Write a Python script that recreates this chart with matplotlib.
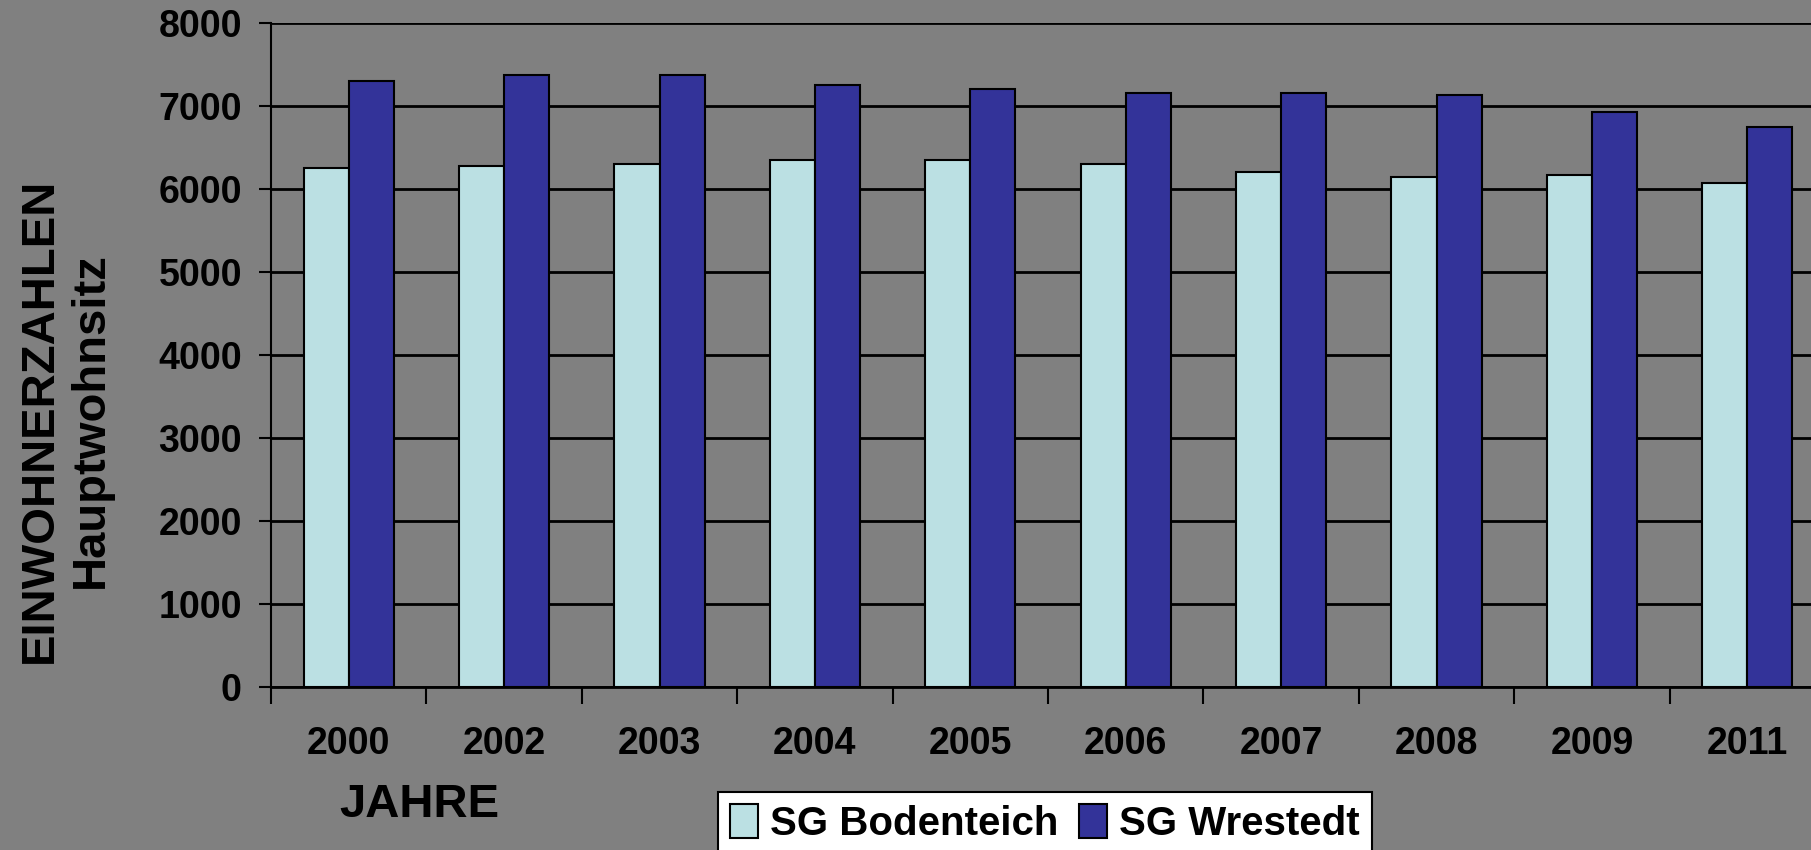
import numpy as np
import matplotlib
matplotlib.use('Agg')
import matplotlib.pyplot as plt

# data
years      = ['2000', '2002', '2003', '2004', '2005', '2006', '2007', '2008', '2009', '2011']
bodenteich = [6257, 6281, 6305, 6346, 6346, 6305, 6209, 6141, 6165, 6072]
wrestedt   = [7301, 7370, 7370, 7253, 7209, 7160, 7160, 7133, 6924, 6743]
yticks     = [0, 1000, 2000, 3000, 4000, 5000, 6000, 7000, 8000]

GRAY  = '#808080'
LIGHT = '#BBE0E3'
DARK  = '#333399'

plt.rcParams['font.family'] = ['Liberation Sans', 'DejaVu Sans']
plt.rcParams['font.weight'] = 'bold'

fig = plt.figure(figsize=(18.11, 8.5), dpi=100, facecolor=GRAY)
ax  = fig.add_axes([271 / 1811, 1 - 687 / 850, 1554 / 1811, 664 / 850], facecolor=GRAY)

x = np.arange(len(years))
w = 0.29
ax.bar(x - w / 2, bodenteich, w, color=LIGHT, edgecolor='black', linewidth=1.5, label='SG Bodenteich', zorder=3)
ax.bar(x + w / 2, wrestedt, w, color=DARK, edgecolor='black', linewidth=1.5, label='SG Wrestedt', zorder=3)

ax.set_xlim(-0.5, len(years) - 0.5)
ax.set_ylim(0, 8000)
ax.set_yticks(yticks)
ax.set_yticklabels([str(t) for t in yticks], fontsize=27, fontweight='bold')
ax.set_xticks(x)
ax.set_xticklabels(years, fontsize=27, fontweight='bold')
ax.set_xticks(np.arange(-0.5, len(years)), minor=True)
ax.tick_params(axis='x', which='major', length=0, pad=28)
ax.tick_params(axis='x', which='minor', length=12, width=1.5, direction='out', color='black')
ax.tick_params(axis='y', length=9, width=1.5, direction='out', pad=12, color='black')

ax.grid(axis='y', color='black', linewidth=2, zorder=0)
ax.set_axisbelow(True)
for side in ['top', 'right']:
    ax.spines[side].set_visible(False)
ax.spines['left'].set_linewidth(1.5)
ax.spines['bottom'].set_linewidth(2)

ax.set_ylabel('EINWOHNERZAHLEN\nHauptwohnsitz', fontsize=34, fontweight='bold',
              multialignment='center', linespacing=1.2)
ax.yaxis.set_label_coords(-0.102, 0.402)

fig.text(419 / 1811, 1 - 805 / 850, 'JAHRE', fontsize=34, fontweight='bold', ha='center', va='center')

leg = fig.legend(loc='upper left', bbox_to_anchor=(718 / 1811, 1 - 792 / 850), ncol=2,
                 prop={'weight': 'bold', 'size': 29}, frameon=True, fancybox=False,
                 edgecolor='black', facecolor='white', handlelength=0.7, handleheight=0.9,
                 handletextpad=0.3, columnspacing=0.5, borderpad=0.3, borderaxespad=0)
leg.get_frame().set_linewidth(1.5)
leg.get_frame().set_alpha(1)

fig.savefig('out.png', dpi=100, facecolor=GRAY)
